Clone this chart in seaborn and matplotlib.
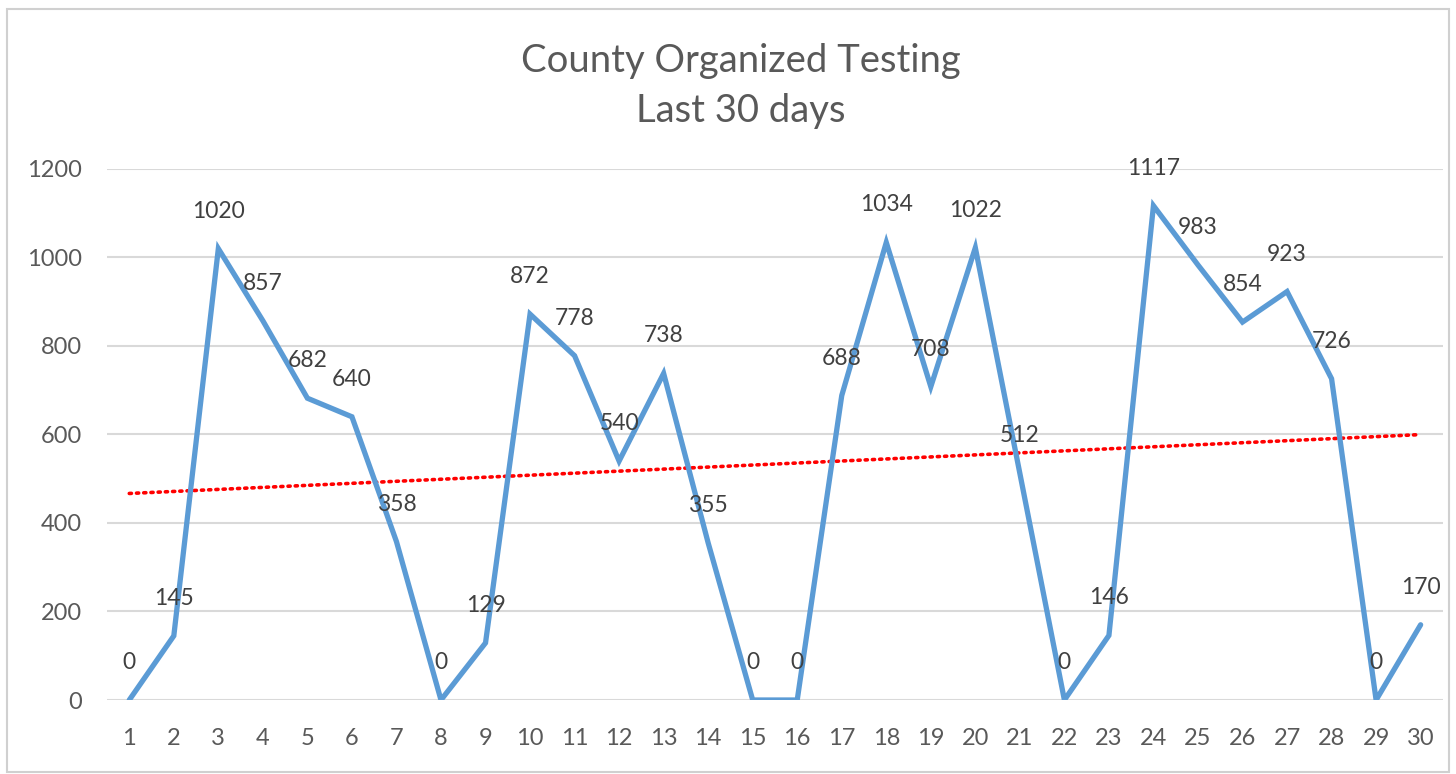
import matplotlib
matplotlib.use("Agg")
import matplotlib.pyplot as plt
import seaborn as sns
import pandas as pd
import numpy as np
from matplotlib.patches import Rectangle

days = list(range(1, 31))
tests = [0, 145, 1020, 857, 682, 640, 358, 0, 129, 872,
         778, 540, 738, 355, 0, 0, 688, 1034, 708, 1022,
         512, 0, 146, 1117, 983, 854, 923, 726, 0, 170]
yticks = [0, 200, 400, 600, 800, 1000, 1200]
title = "County Organized Testing\nLast 30 days"

sns.set_theme(style="white")
plt.rcParams['font.family'] = ['Lato', 'DejaVu Sans']

df = pd.DataFrame({"day": days, "tests": tests})

fig = plt.figure(figsize=(14.56, 7.74), dpi=100)
ax = fig.add_axes([0.0735, 0.0956, 0.9175, 0.6861])

fig.patches.append(Rectangle((0.005, 0.003), 0.99, 0.986, transform=fig.transFigure,
                             fill=False, edgecolor="#D0D0D0", linewidth=1.5))

for t in yticks:
    ax.axhline(t, color="#D9D9D9", linewidth=1.5, zorder=0)

sns.regplot(data=df, x="day", y="tests", ax=ax, scatter=False, ci=None, truncate=True,
            line_kws=dict(color="#FF0000", linestyle=(0, (0.6, 1.4)), linewidth=2.6,
                          dash_capstyle="round"))
sns.lineplot(data=df, x="day", y="tests", ax=ax, color="#5B9BD5", linewidth=3.8,
             solid_joinstyle="miter")

for d, v in zip(days, tests):
    ax.annotate(str(v), (d, v), xytext=(0, 27), textcoords="offset points",
                ha="center", va="center", fontsize=16.5, color="#404040")

ax.set_xlim(0.5, 30.5)
ax.set_ylim(0, 1200)
ax.set_xticks(days)
ax.set_xticklabels([str(d) for d in days])
ax.set_yticks(yticks)
ax.tick_params(axis="both", length=0, labelsize=17, labelcolor="#595959")
ax.tick_params(axis="x", pad=20)
ax.tick_params(axis="y", pad=18)
ax.set_xlabel("")
ax.set_ylabel("")
for s in ax.spines.values():
    s.set_visible(False)

fig.text(0.509, 0.889, title, ha="center", va="center", fontsize=27.5,
         color="#595959", linespacing=1.5)

fig.savefig("out.png", dpi=100)
